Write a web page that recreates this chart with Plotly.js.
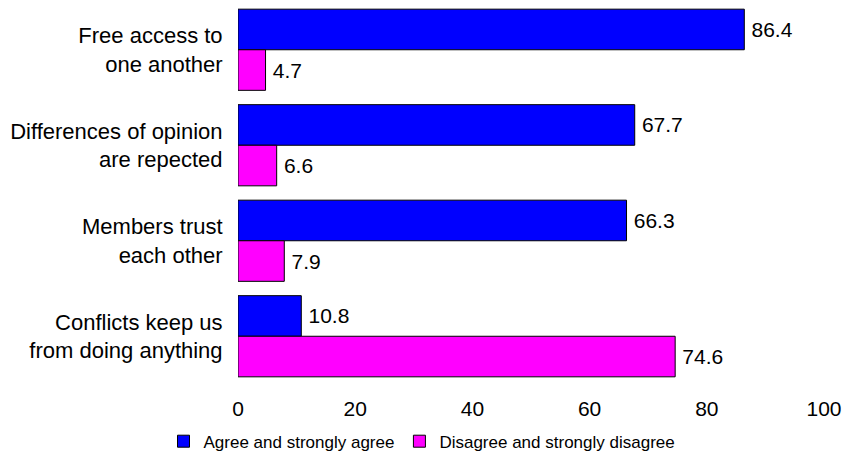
<!DOCTYPE html>
<html>
<head>
<meta charset="utf-8">
<script src="https://cdn.plot.ly/plotly-3.0.1.min.js"></script>
<style>html,body{margin:0;padding:0;background:#fff;}#chart{width:844px;height:463px;}</style>
</head>
<body>
<div id="chart"></div>
<script>
const categories = [
  "Free access to<br>one another",
  "Differences of opinion<br>are repected",
  "Members trust<br>each other",
  "Conflicts keep us<br>from doing anything"
];
const agreeValues = [86.4, 67.7, 66.3, 10.8];
const disagreeValues = [4.7, 6.6, 7.9, 74.6];
const seriesNames = ["Agree and strongly agree", "Disagree and strongly disagree"];
const xTicks = [0, 20, 40, 60, 80, 100];

const FONT = "Arial, 'Liberation Sans', sans-serif";

function mk(name, vals, color) {
  return {
    type: "bar",
    orientation: "h",
    name: name,
    y: categories,
    x: vals,
    text: vals.map(v => "\u2009" + v.toFixed(1)),
    textposition: "outside",
    textfont: {family: FONT, size: 21, color: "#000"},
    cliponaxis: false,
    marker: {color: color, line: {color: "#000", width: 1}},
    hoverinfo: "none"
  };
}

const data = [
  mk(seriesNames[0], agreeValues, "#0000FF"),
  mk(seriesNames[1], disagreeValues, "#FF00FF")
];

const layout = {
  width: 844,
  height: 463,
  margin: {l: 238, r: 20, t: 2, b: 79, autoexpand: false},
  paper_bgcolor: "#fff",
  plot_bgcolor: "#fff",
  barmode: "group",
  bargap: 0.15,
  bargroupgap: 0,
  font: {family: FONT, size: 21, color: "#000"},
  xaxis: {
    range: [0, 100],
    tickvals: xTicks,
    ticktext: xTicks.map(String),
    showgrid: false,
    zeroline: false,
    showline: false,
    ticks: "outside",
    ticklen: 6,
    tickcolor: "rgba(0,0,0,0)",
    tickfont: {family: FONT, size: 21, color: "#000"}
  },
  yaxis: {
    autorange: "reversed",
    showgrid: false,
    zeroline: false,
    showline: false,
    ticks: "outside",
    ticklen: 10,
    tickcolor: "rgba(0,0,0,0)",
    tickfont: {family: FONT, size: 22, color: "#000"}
  },
  showlegend: true,
  legend: {
    orientation: "h",
    x: 0.5,
    xref: "container",
    xanchor: "center",
    y: 0.085,
    yref: "container",
    yanchor: "top",
    font: {family: FONT, size: 17, color: "#000"},
    itemwidth: 30,
    traceorder: "normal"
  }
};

Plotly.newPlot("chart", data, layout, {displayModeBar: false, staticPlot: true});
</script>
</body>
</html>
